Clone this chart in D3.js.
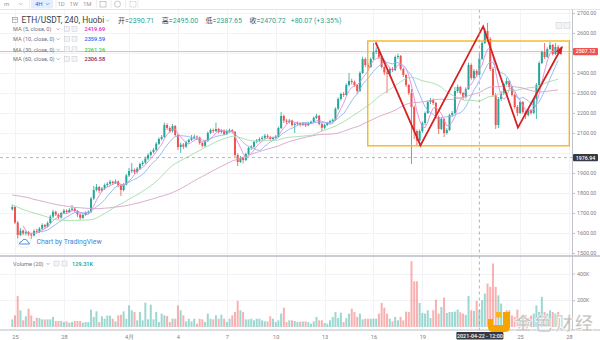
<!DOCTYPE html>
<html>
<head>
<meta charset="utf-8">
<script src="https://cdn.jsdelivr.net/npm/d3@7"></script>
<style>
  html, body { margin: 0; padding: 0; background: #fff; }
  svg { display: block; font-family: Roboto, "Noto Sans CJK SC", sans-serif; }
</style>
</head>
<body>
<svg id="chart" width="600" height="340"></svg>
<script>
// ETH/USDT 4-hour bars (Huobi), first bar opens 2021-03-24 20:00
const firstOpen = 1718;
const closes = [
  1730,1652,1590,1612,1598,1604,1593,1588,1610,1606,
  1622,1640,1632,1650,1682,1706,1692,1678,1700,1712,
  1705,1716,1722,1710,1692,1676,1690,1700,1706,1772,
  1815,1830,1812,1822,1840,1846,1856,1850,1858,1840,
  1815,1842,1888,1910,1916,1905,1922,1945,1952,1972,
  1990,2005,2016,2046,2070,2080,2140,2125,2110,2135,
  2090,2030,2042,2032,2055,2066,2076,2082,2078,2050,
  2036,2060,2100,2115,2110,2120,2105,2112,2095,2110,
  2114,2106,1990,1955,1975,1965,1995,2025,2032,2055,
  2062,2070,2076,2086,2080,2070,2076,2082,2125,2185,
  2162,2156,2162,2140,2146,2150,2140,2148,2138,2150,
  2156,2176,2186,2145,2126,2140,2150,2160,2166,2222,
  2270,2295,2290,2340,2360,2355,2340,2310,2400,2470,
  2440,2430,2470,2505,2512,2480,2430,2402,2396,2420,
  2414,2480,2485,2420,2390,2340,2300,2230,2110,2062,
  2110,2150,2200,2255,2265,2250,2180,2120,2170,2100,
  2115,2190,2200,2310,2330,2300,2280,2320,2440,2375,
  2410,2390.65,2470.72,2550,2610,2570,2420,2290,2140,2270,
  2300,2345,2360,2330,2290,2230,2200,2255,2205,2190,
  2215,2200,2270,2340,2450,2505,2480,2520,2540,2495,
  2530,2507.12
];
const highs = [
  1742,1735,1660,1625,1618,1612,1610,1600,1618,1620,
  1630,1648,1645,1658,1690,1716,1712,1698,1706,1720,
  1718,1724,1740,1728,1715,1698,1696,1708,1714,1780,
  1835,1845,1835,1830,1848,1855,1866,1862,1868,1862,
  1845,1850,1895,1925,1950,1922,1930,1952,1962,1982,
  1998,2012,2024,2055,2078,2090,2152,2148,2132,2145,
  2140,2095,2052,2050,2062,2072,2090,2092,2088,2082,
  2056,2066,2108,2122,2122,2152,2126,2120,2118,2118,
  2122,2120,2110,1998,1985,1982,2002,2032,2040,2062,
  2070,2078,2085,2095,2094,2086,2082,2090,2132,2205,
  2192,2170,2170,2166,2152,2158,2155,2155,2152,2156,
  2162,2182,2196,2190,2150,2146,2156,2166,2172,2228,
  2278,2302,2305,2348,2400,2372,2362,2345,2408,2482,
  2478,2450,2478,2550,2528,2518,2485,2438,2412,2428,
  2430,2488,2496,2490,2425,2395,2345,2320,2238,2118,
  2118,2158,2208,2262,2276,2272,2256,2188,2178,2175,
  2124,2196,2210,2330,2342,2336,2306,2328,2452,2448,
  2420,2418,2495,2558,2625,2650,2580,2430,2300,2280,
  2310,2352,2376,2365,2336,2296,2240,2262,2260,2212,
  2222,2220,2278,2350,2458,2512,2550,2528,2555,2545,
  2550,2540
];
const lows = [
  1712,1645,1572,1585,1590,1588,1585,1570,1582,1598,
  1600,1615,1622,1628,1645,1675,1685,1670,1672,1695,
  1698,1700,1710,1702,1680,1665,1670,1686,1694,1700,
  1765,1808,1800,1805,1815,1830,1838,1840,1845,1828,
  1785,1808,1838,1880,1900,1895,1898,1915,1935,1945,
  1965,1982,1998,2010,2040,2062,2075,2115,2100,2102,
  2082,2015,2000,2020,2025,2048,2060,2068,2066,2042,
  2028,2030,2055,2094,2100,2105,2098,2098,2088,2090,
  2102,2098,1980,1935,1950,1948,1960,1990,2015,2025,
  2048,2055,2062,2070,2072,2062,2064,2070,2078,2120,
  2150,2145,2148,2132,2100,2136,2132,2135,2130,2134,
  2144,2150,2170,2138,2110,2118,2135,2145,2152,2160,
  2215,2262,2280,2285,2332,2342,2332,2295,2305,2395,
  2430,2418,2425,2465,2495,2470,2422,2390,2300,2390,
  2405,2410,2470,2412,2380,2330,2290,1945,2070,2040,
  2040,2100,2140,2195,2245,2240,2170,2095,2115,2080,
  2092,2110,2182,2195,2300,2292,2265,2272,2315,2366,
  2368,2380,2387.65,2465,2545,2560,2410,2280,2120,2125,
  2260,2290,2340,2322,2282,2222,2185,2195,2196,2170,
  2182,2192,2195,2170,2335,2445,2470,2476,2515,2488,
  2490,2500
];
// traded volume per bar, in thousands
const volumesK = [
  57,87,232,125,50,80,137,87,45,70,
  67,57,57,57,57,75,45,45,45,37,
  42,32,37,45,45,45,32,37,37,130,
  75,117,37,80,62,85,85,62,42,87,
  92,117,62,162,125,112,50,112,50,182,
  57,167,57,112,37,100,87,82,37,62,
  62,162,125,87,42,62,42,62,25,62,
  57,37,100,62,57,87,62,92,62,37,
  62,87,112,195,125,112,57,57,62,50,
  62,62,50,42,42,80,62,37,50,100,
  145,37,50,50,45,37,40,42,42,37,
  25,42,75,50,50,30,25,50,75,112,
  67,107,37,67,100,137,112,75,100,57,
  62,62,62,62,62,100,180,145,100,62,
  42,75,50,75,50,115,112,492,342,342,
  180,105,100,125,67,125,205,100,150,220,
  105,112,112,115,130,110,100,90,232,125,
  120,195,129.31,200,250,325,300,475,300,237,
  175,112,125,125,87,75,130,62,75,90,
  70,85,100,162,112,225,112,100,125,112,
  100,112
];
// long averages for the opening bars, whose windows reach back before the first bar
const ma30Lead = [1740,1735,1729,1723,1718,1713,1708,1704,1700,1696,
  1692,1688,1684,1679,1674,1670,1667,1665,1664,1663,
  1663,1663,1663,1663,1663,1664,1664,1665,1665];
const ma60Lead = [1790,1788,1786,1784,1781,1779,1776,1772,1768,1765,
  1762,1759,1756,1752,1749,1746,1743,1740,1738,1736,
  1734,1732,1730,1728,1727,1726,1725,1724,1723,1723,
  1722,1722,1722,1723,1724,1725,1726,1728,1730,1731,
  1733,1735,1737,1740,1743,1746,1749,1752,1756,1760,
  1764,1768,1772,1776,1780,1784,1788,1792,1797];

// bar under the cursor (2021-04-22 12:00)
const hoverBar = { index: 172, open: 2390.71, high: 2495.00, low: 2387.65, close: 2470.72 };
const hoverPrice = 1976.94;
const maPeriods = [5, 10, 30, 60];
const maLegendValues = ["2419.69", "2359.59", "2261.26", "2306.58"];

// price grid every 100; the 2000 and 2500 labels are covered by the axis badges
const priceGrid = [1500,1600,1700,1800,1900,2000,2100,2200,2300,2400,2500,2600,2700];
const priceTickLabels = [1500,1600,1700,1800,1900,2100,2200,2300,2400,2600,2700];
const volumeTicks = [200, 400];
// day marks on the time axis (the 22nd sits under the cursor's time badge)
const timeTicks = ["2021-03-25","2021-03-28","2021-04-01","2021-04-04","2021-04-07","2021-04-10",
                   "2021-04-13","2021-04-16","2021-04-19","2021-04-25","2021-04-28"];
const timeTickLabels = ["25","28","4月","4","7","10","13","16","19","25","28"];
const gridDays = ["2021-03-25","2021-03-28","2021-04-01","2021-04-04","2021-04-07","2021-04-10",
                  "2021-04-13","2021-04-16","2021-04-19","2021-04-22","2021-04-25","2021-04-28"];

// hand-drawn annotations: [bar index, price]
const rangeBox = { fromBar: 130.9, toBar: 205.1, top: 2560, bottom: 2036 };
const zigzag = [[133.8, 2553], [150.3, 2038], [173.4, 2633], [186.2, 2127], [202.4, 2530]];

// ---------------------------------------------------------------
const C = {
  up: "#26a69a", down: "#ef5350",
  volUp: "rgba(38,166,154,0.45)", volDown: "rgba(239,83,80,0.45)",
  grid: "#f1f3f7", text: "#7b7e87",
  ma: ["#e48ad6", "#8db5f6", "#9edfa7", "#d9a1c7"],
  maText: ["#e020c8", "#2962ff", "#2ec840", "#8e1f5b"]
};
const plotRight = 572.5, priceTop = 9.5, paneSep = 256, axisY = 330;
const BAR_MS = 4 * 3600e3;
const t0 = Date.UTC(2021, 2, 24, 20);
const barTime = i => new Date(t0 + i * BAR_MS);
const utc = s => new Date(s + "T00:00:00Z");

const x = d3.scaleUtc().domain([utc("2021-03-25"), utc("2021-04-28")]).range([15, 569]);
const y = d3.scaleLinear().domain([1500, 2700]).range([253, 13]);
const yVol = d3.scaleLinear().domain([0, 400]).range([327, 273.5]);

const bars = closes.map((c, i) => ({
  i, t: barTime(i), open: i === 0 ? firstOpen : closes[i - 1],
  high: highs[i], low: lows[i], close: c, vol: volumesK[i]
}));
Object.assign(bars[hoverBar.index], hoverBar, { i: hoverBar.index, t: barTime(hoverBar.index) });

function movingAverage(n, lead) {
  return closes.map((_, i) => {
    if (i < n - 1) return lead && lead[i] != null ? lead[i] : null;
    return d3.mean(closes.slice(i - n + 1, i + 1));
  });
}
const maSeries = [movingAverage(5), movingAverage(10), movingAverage(30, ma30Lead), movingAverage(60, ma60Lead)];

const svg = d3.select("#chart");
const defs = svg.append("defs");
defs.append("clipPath").attr("id", "clipPrice").append("rect")
  .attr("x", 0).attr("y", priceTop).attr("width", plotRight).attr("height", paneSep - priceTop);
defs.append("clipPath").attr("id", "clipVol").append("rect")
  .attr("x", 0).attr("y", paneSep).attr("width", plotRight).attr("height", axisY - paneSep);

svg.append("rect").attr("width", 600).attr("height", 340).attr("fill", "#fff");

// grid
const grid = svg.append("g").attr("stroke", C.grid).attr("stroke-width", 1);
grid.selectAll(".hg").data(priceGrid).join("line")
  .attr("x1", 0).attr("x2", plotRight).attr("y1", d => Math.round(y(d)) + 0.5).attr("y2", d => Math.round(y(d)) + 0.5);
grid.selectAll(".vg").data(gridDays).join("line")
  .attr("x1", d => Math.round(x(utc(d))) + 0.5).attr("x2", d => Math.round(x(utc(d))) + 0.5)
  .attr("y1", priceTop).attr("y2", axisY);
grid.selectAll(".vh").data(volumeTicks).join("line")
  .attr("x1", 0).attr("x2", plotRight).attr("y1", d => Math.round(yVol(d)) + 0.5).attr("y2", d => Math.round(yVol(d)) + 0.5);

// last price line
const lastBar = bars[bars.length - 1];
svg.append("line").attr("x1", 0).attr("x2", plotRight)
  .attr("y1", y(lastBar.close)).attr("y2", y(lastBar.close))
  .attr("stroke", "#f5b3b3").attr("stroke-width", 1);

// volume
svg.append("g").attr("clip-path", "url(#clipVol)")
  .selectAll("rect").data(bars).join("rect")
  .attr("x", d => x(d.t) - 1).attr("width", 2)
  .attr("y", d => yVol(d.vol)).attr("height", d => yVol(0) - yVol(d.vol))
  .attr("fill", d => d.close >= d.open ? C.volUp : C.volDown);

// candles
const candles = svg.append("g").attr("clip-path", "url(#clipPrice)")
  .selectAll("g").data(bars).join("g")
  .attr("fill", d => d.close >= d.open ? C.up : C.down)
  .attr("stroke", d => d.close >= d.open ? C.up : C.down);
candles.append("line")
  .attr("x1", d => x(d.t)).attr("x2", d => x(d.t))
  .attr("y1", d => y(d.high)).attr("y2", d => y(d.low)).attr("stroke-width", 0.8);
candles.append("rect")
  .attr("stroke", "none")
  .attr("x", d => x(d.t) - 1).attr("width", 2)
  .attr("y", d => y(Math.max(d.open, d.close)))
  .attr("height", d => Math.max(0.8, Math.abs(y(d.open) - y(d.close))));

// moving averages
const maLine = d3.line().defined(d => d.v != null).x(d => x(barTime(d.i))).y(d => y(d.v));
const maG = svg.append("g").attr("clip-path", "url(#clipPrice)").attr("fill", "none");
maSeries.forEach((s, k) => {
  maG.append("path").datum(s.map((v, i) => ({ i, v })))
    .attr("d", maLine).attr("stroke", C.ma[k]).attr("stroke-width", 0.9);
});

// annotations: range box and zigzag with arrow
const ann = svg.append("g").attr("clip-path", "url(#clipPrice)");
ann.append("rect")
  .attr("x", x(barTime(rangeBox.fromBar))).attr("y", y(rangeBox.top))
  .attr("width", x(barTime(rangeBox.toBar)) - x(barTime(rangeBox.fromBar)))
  .attr("height", y(rangeBox.bottom) - y(rangeBox.top))
  .attr("fill", "none").attr("stroke", "#f5b20f").attr("stroke-width", 1.3);
const zz = zigzag.map(([b, p]) => [x(barTime(b)), y(p)]);
ann.append("path").attr("d", d3.line()(zz))
  .attr("fill", "none").attr("stroke", "#d42222").attr("stroke-width", 1.8).attr("stroke-linejoin", "miter");
{
  const [xa, ya] = zz[zz.length - 2], [xb, yb] = zz[zz.length - 1];
  const ang = Math.atan2(yb - ya, xb - xa), L = 7, Wd = 3.2;
  const bx = xb - L * Math.cos(ang), by = yb - L * Math.sin(ang);
  const nx = -Math.sin(ang), ny = Math.cos(ang);
  ann.append("path")
    .attr("d", `M${xb + 1.5 * Math.cos(ang)},${yb + 1.5 * Math.sin(ang)}L${bx + Wd * nx},${by + Wd * ny}L${bx - Wd * nx},${by - Wd * ny}Z`)
    .attr("fill", "#d42222");
}

// crosshair
const cx = x(barTime(hoverBar.index));
svg.append("line").attr("x1", cx).attr("x2", cx).attr("y1", priceTop).attr("y2", axisY)
  .attr("stroke", "#9aa0ab").attr("stroke-width", 0.8).attr("stroke-dasharray", "3,3");
svg.append("line").attr("x1", 0).attr("x2", plotRight).attr("y1", y(hoverPrice)).attr("y2", y(hoverPrice))
  .attr("stroke", "#9aa0ab").attr("stroke-width", 0.8).attr("stroke-dasharray", "3,3");

// frame lines
svg.append("line").attr("x1", 0).attr("x2", 600).attr("y1", priceTop).attr("y2", priceTop).attr("stroke", "#e3e5ea");
svg.append("line").attr("x1", 0).attr("x2", 600).attr("y1", paneSep).attr("y2", paneSep).attr("stroke", "#b8bbc3").attr("stroke-width", 1.5);
svg.append("line").attr("x1", 0).attr("x2", 600).attr("y1", axisY).attr("y2", axisY).attr("stroke", "#b8bbc3").attr("stroke-width", 1);
svg.append("line").attr("x1", plotRight).attr("x2", plotRight).attr("y1", priceTop).attr("y2", axisY).attr("stroke", "#c0c3ca");

// axes
function styleAxis(g) {
  g.attr("font-family", "Roboto, sans-serif").attr("font-size", 5.3);
  g.select(".domain").remove();
  g.selectAll(".tick line").attr("stroke", "#c0c3ca");
  g.selectAll(".tick text").attr("fill", C.text);
}
svg.append("g").attr("transform", `translate(${plotRight},0)`)
  .call(d3.axisRight(y).tickValues(priceTickLabels).tickFormat(d3.format(".2f")).tickSize(2.5).tickPadding(2))
  .call(styleAxis);
svg.append("g").attr("transform", `translate(${plotRight},0)`)
  .call(d3.axisRight(yVol).tickValues(volumeTicks).tickFormat(d => d + "K").tickSize(2.5).tickPadding(2))
  .call(styleAxis);
svg.append("g").attr("transform", `translate(0,${axisY})`)
  .call(d3.axisBottom(x).tickValues(timeTicks.map(utc)).tickFormat((d, i) => timeTickLabels[i]).tickSize(0).tickPadding(5.5))
  .call(styleAxis)
  .call(g => g.selectAll(".tick text").attr("font-size", 5.6));

// axis badges
function badge(cxp, cyp, w, h, fill, label) {
  svg.append("rect").attr("x", cxp - w / 2).attr("y", cyp - h / 2).attr("width", w).attr("height", h)
    .attr("rx", 1).attr("fill", fill);
  svg.append("text").attr("x", cxp).attr("y", cyp).attr("dy", "0.36em").attr("text-anchor", "middle")
    .attr("font-size", 5.3).attr("font-weight", 500).attr("fill", "#fff").text(label);
}
badge(585.5, y(lastBar.close), 25, 7.2, "#ef5350", d3.format(".2f")(lastBar.close));
badge(585.5, y(hoverPrice), 25, 7.2, "#363a45", d3.format(".2f")(hoverPrice));
badge(cx + 0.5, 335.8, 47, 7.6, "#363a45", d3.utcFormat("%Y-%m-%d - %H:%M")(barTime(hoverBar.index)));

// small chevron
function chevron(g, xx, yy, col) {
  g.append("path").attr("d", `M${xx},${yy}l1.6,1.6l1.6,-1.6`).attr("fill", "none")
    .attr("stroke", col || "#8a8d96").attr("stroke-width", 0.6);
}
function iconBox(g, xx, yy, s) {
  g.append("rect").attr("x", xx).attr("y", yy).attr("width", s).attr("height", s)
    .attr("fill", "#f3f4f6").attr("stroke", "#c7cad1").attr("stroke-width", 0.5);
}

// toolbar
const tb = svg.append("g").attr("font-size", 6).attr("fill", "#9598a1");
tb.append("text").attr("x", 4).attr("y", 6).text("m");
chevron(tb, 19, 3.2);
tb.append("rect").attr("x", 31).attr("y", 0).attr("width", 22).attr("height", 8.5).attr("fill", "#e4eefc");
tb.append("text").attr("x", 35).attr("y", 6).attr("fill", "#2962ff").text("4H");
chevron(tb, 46, 3.2, "#2962ff");
tb.append("text").attr("x", 57.5).attr("y", 6).text("1D");
tb.append("text").attr("x", 69.5).attr("y", 6).text("1W");
tb.append("text").attr("x", 83).attr("y", 6).text("1M");
[[29.5], [56], [96.5], [111], [125.5], [138]].forEach(([xx]) =>
  tb.append("line").attr("x1", xx).attr("x2", xx).attr("y1", 0).attr("y2", 8.5).attr("stroke", "#eceef2"));
tb.append("rect").attr("x", 100).attr("y", 1.5).attr("width", 6).attr("height", 5.5).attr("fill", "none").attr("stroke", "#a3a6ae").attr("stroke-width", 0.6);
tb.append("circle").attr("cx", 117.5).attr("cy", 4.2).attr("r", 3).attr("fill", "none").attr("stroke", "#a3a6ae").attr("stroke-width", 0.6);
tb.append("rect").attr("x", 130).attr("y", 1.5).attr("width", 6).attr("height", 5.5).attr("fill", "none").attr("stroke", "#a3a6ae").attr("stroke-width", 0.6).attr("stroke-dasharray", "1.2,1");

// main legend
const lg = svg.append("g");
lg.append("rect").attr("x", 12.5).attr("y", 17.5).attr("width", 5).attr("height", 5).attr("fill", "none").attr("stroke", "#8a8d96").attr("stroke-width", 0.6);
lg.append("line").attr("x1", 12.5).attr("x2", 17.5).attr("y1", 19.3).attr("y2", 19.3).attr("stroke", "#8a8d96").attr("stroke-width", 0.6);
lg.append("text").attr("x", 21.5).attr("y", 23.2).attr("font-size", 8.4).attr("fill", "#3d3f46").text("ETH/USDT, 240, Huobi");
chevron(lg, 106, 19.6);
const prevClose = closes[hoverBar.index - 1];
const chg = hoverBar.close - prevClose;
const f2 = d3.format(".2f");
const ohlc = lg.append("text").attr("x", 118).attr("y", 23).attr("font-size", 7);
[["开=", f2(hoverBar.open)], ["高=", f2(hoverBar.high)], ["低=", f2(hoverBar.low)], ["收=", f2(hoverBar.close)]]
  .forEach(([k, v], n) => {
    ohlc.append("tspan").attr("dx", n ? 7.5 : 0).attr("fill", "#3d3f46").text(k);
    ohlc.append("tspan").attr("fill", C.up).text(v);
  });
ohlc.append("tspan").attr("dx", 5).attr("fill", C.up)
  .text(`${chg >= 0 ? "+" : ""}${f2(chg)} (${chg >= 0 ? "+" : ""}${f2(chg / prevClose * 100)}%)`);

// moving-average legend rows
const rowY = [31.3, 41.3, 51.8, 61.3];
maPeriods.forEach((p, k) => {
  const r = lg.append("g");
  r.append("text").attr("x", 13).attr("y", rowY[k]).attr("font-size", 5.6).attr("fill", "#6f727b")
    .text(`MA (${p}, close, 0)`);
  chevron(r, 56.5, rowY[k] - 3);
  iconBox(r, 64.5, rowY[k] - 5, 5);
  iconBox(r, 72, rowY[k] - 5, 5);
  r.append("text").attr("x", 84.5).attr("y", rowY[k]).attr("font-size", 5.6).attr("font-weight", 500)
    .attr("fill", C.maText[k]).text(maLegendValues[k]);
});

// pane buttons
iconBox(svg, 556, 22.5, 6);
iconBox(svg, 564, 22.5, 6);

// volume legend
const vl = svg.append("g");
vl.append("text").attr("x", 13).attr("y", 266).attr("font-size", 5.6).attr("fill", "#6f727b").text("Volume (20)");
chevron(vl, 46.5, 263);
iconBox(vl, 54, 261, 5);
iconBox(vl, 62, 261, 5);
vl.append("text").attr("x", 72).attr("y", 266).attr("font-size", 5.6).attr("font-weight", 600)
  .attr("fill", C.up).text(d3.format(".2f")(bars[hoverBar.index].vol) + "K");

// TradingView credit
const tv = svg.append("g");
tv.append("circle").attr("cx", 24).attr("cy", 241.5).attr("r", 6.5).attr("fill", "#fff").attr("stroke", "#dfe3ea").attr("stroke-width", 0.7);
tv.append("path").attr("d", "M19.5,244 q0,-2.5 2.4,-2.6 q0.8,-2.6 3.4,-2 q2.3,0.5 2.3,2.4 q1.8,0.3 1.7,2.2 z")
  .attr("fill", "none").attr("stroke", "#3d86dc").attr("stroke-width", 0.9);
tv.append("text").attr("x", 36.5).attr("y", 243.8).attr("font-size", 6.9).attr("fill", "#3d86dc").text("Chart by TradingView");

// publisher mark
const wm = svg.append("g");
wm.append("path").attr("d", "M488,319 h5 v6 h10 v-13 h7 v15 q0,5 -5,5 h-12 q-5,0 -5,-5 z").attr("fill", "#f5a400");
wm.append("rect").attr("x", 496).attr("y", 312).attr("width", 5.5).attr("height", 5.5).attr("fill", "#f8b51c");
wm.append("text").attr("x", 514).attr("y", 329.5).attr("font-size", 18).attr("font-family", "'Noto Sans CJK SC'")
  .attr("font-weight", 700).attr("fill", "#bfbfbf").attr("stroke", "#ffffff").attr("stroke-width", 0.6)
  .attr("textLength", 79).text("金色财经");
</script>
</body>
</html>
